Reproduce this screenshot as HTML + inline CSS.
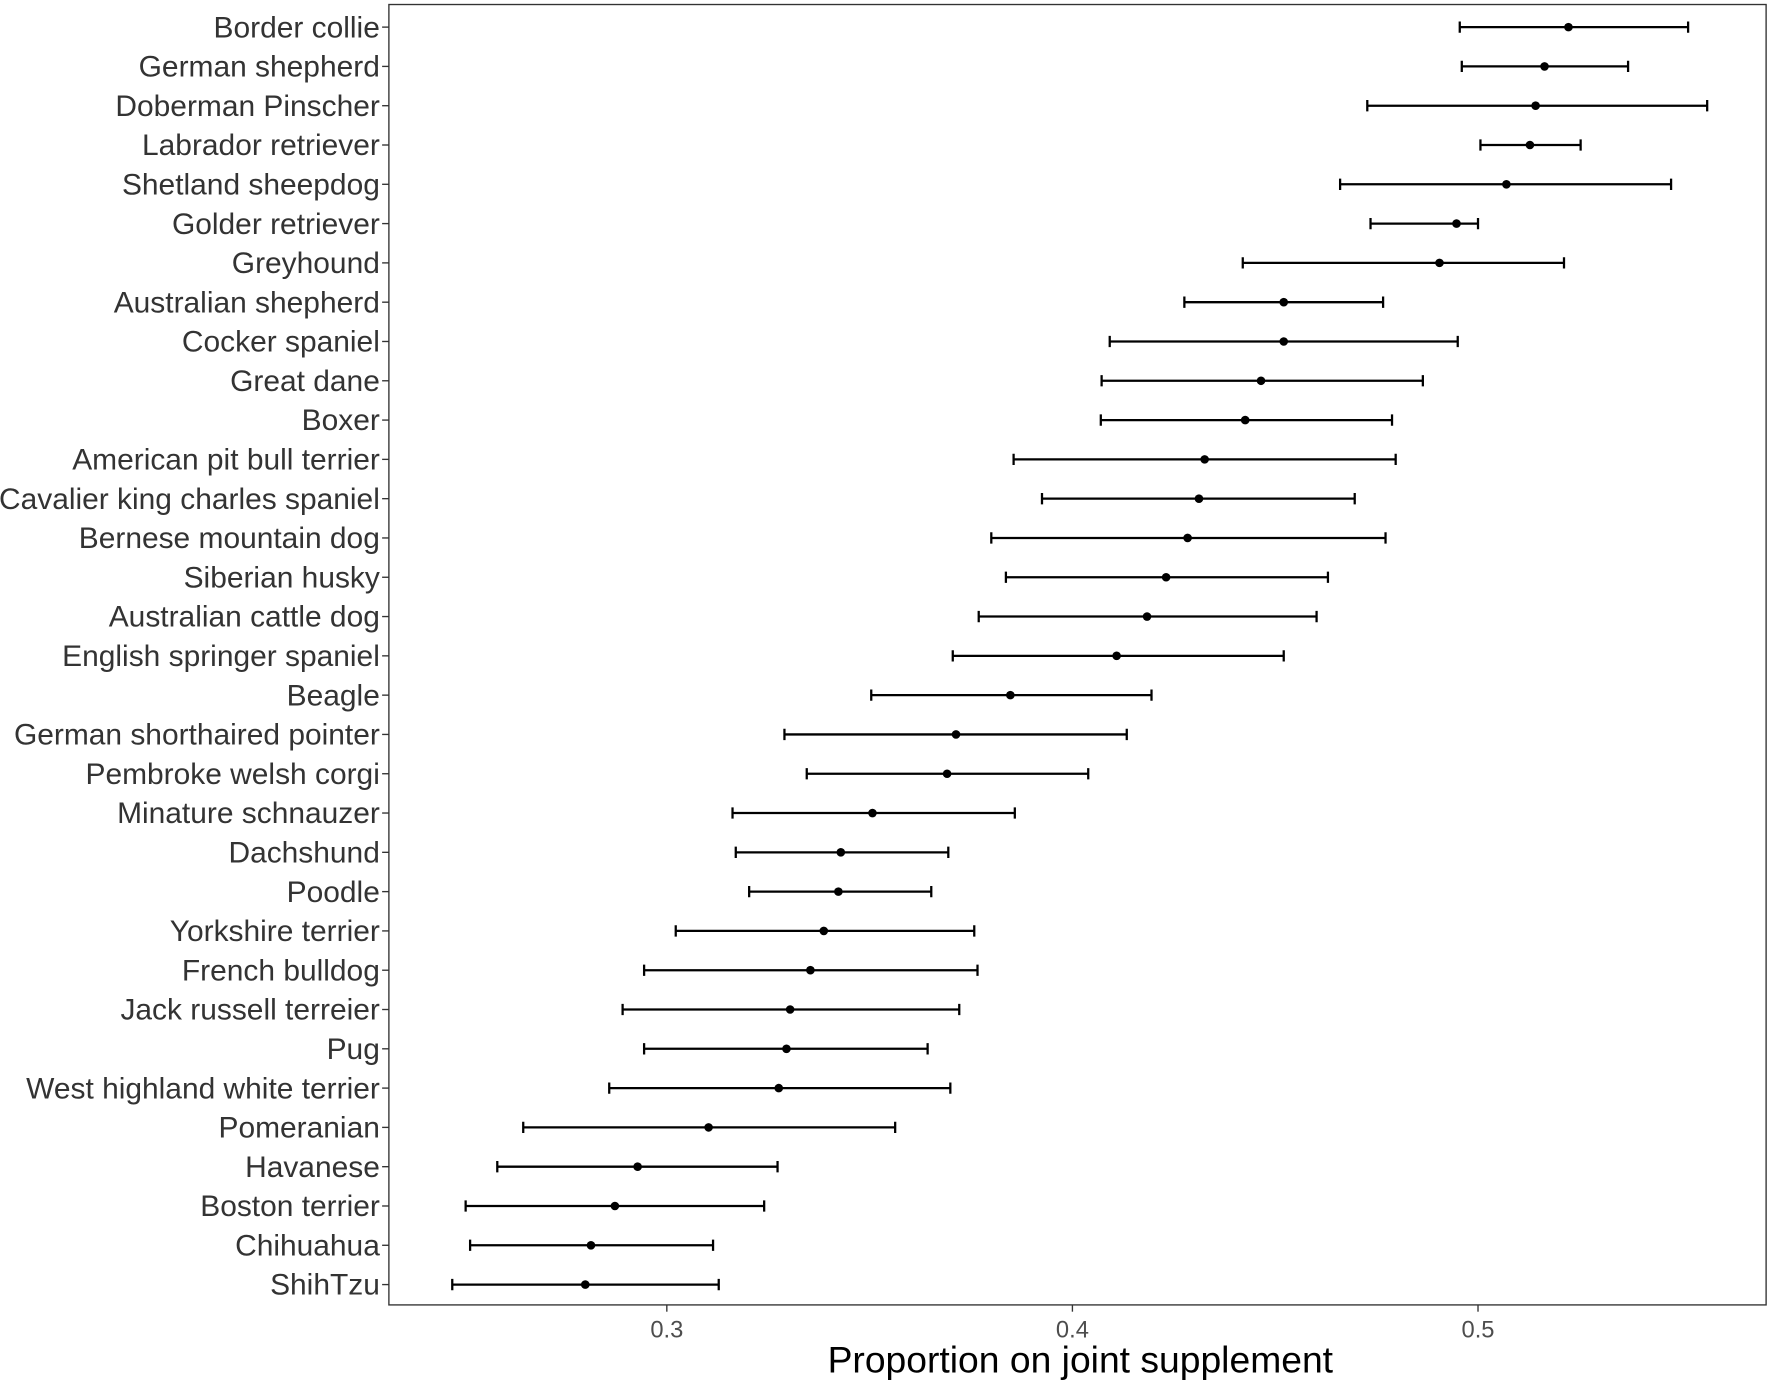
<!DOCTYPE html>
<html><head><meta charset="utf-8"><style>
html,body{margin:0;padding:0;background:#fff;}
svg{display:block;font-family:"Liberation Sans",Arial,sans-serif;}
</style></head><body>
<svg id="chart" width="1772" height="1384" viewBox="0 0 1568 1225" xmlns="http://www.w3.org/2000/svg">
<rect x="0" y="0" width="1568" height="1225" fill="#fff"/>
<rect x="344" y="4" width="1219" height="1151" fill="none" stroke="#333" stroke-width="1.2"/>
<g id="marks"></g>
<text x="956" y="1215" font-size="33" text-anchor="middle" fill="#000">Proportion on joint supplement</text>
</svg>
<script>
const breeds=["Border collie","German shepherd","Doberman Pinscher","Labrador retriever","Shetland sheepdog","Golder retriever","Greyhound","Australian shepherd","Cocker spaniel","Great dane","Boxer","American pit bull terrier","Cavalier king charles spaniel","Bernese mountain dog","Siberian husky","Australian cattle dog","English springer spaniel","Beagle","German shorthaired pointer","Pembroke welsh corgi","Minature schnauzer","Dachshund","Poodle","Yorkshire terrier","French bulldog","Jack russell terreier","Pug","West highland white terrier","Pomeranian","Havanese","Boston terrier","Chihuahua","ShihTzu"];
const estimates=[0.5223,0.5164,0.5142,0.5128,0.507,0.4947,0.4905,0.4521,0.4521,0.4465,0.4426,0.4326,0.4312,0.4284,0.4231,0.4184,0.4109,0.3847,0.3713,0.3691,0.3507,0.3429,0.3423,0.3387,0.3354,0.3304,0.3295,0.3276,0.3103,0.2928,0.2872,0.2813,0.2799];
const lower=[0.4955,0.496,0.4727,0.5006,0.466,0.4735,0.442,0.4276,0.4092,0.4072,0.407,0.3855,0.3925,0.38,0.3836,0.3769,0.3705,0.3504,0.329,0.3345,0.3162,0.317,0.3203,0.3022,0.2944,0.2891,0.2944,0.2858,0.2646,0.2582,0.2504,0.2515,0.2471];
const upper=[0.5518,0.537,0.5565,0.5253,0.5476,0.5,0.5212,0.4766,0.495,0.4864,0.4788,0.4797,0.4696,0.4772,0.463,0.4602,0.4521,0.4195,0.4134,0.4039,0.3858,0.3694,0.3652,0.3758,0.3766,0.3721,0.3643,0.3699,0.3563,0.3273,0.324,0.3114,0.3128];
const xTicks=[0.3,0.4,0.5];
const xTickLabels=["0.3","0.4","0.5"];
const NS="http://www.w3.org/2000/svg";
const g=document.getElementById('marks');
function xs(v){return 590+(v-0.3)*3590;}
function ys(i){return 24+i*(1137-24)/(breeds.length-1);}
function mk(t,a){const e=document.createElementNS(NS,t);for(const k in a)e.setAttribute(k,a[k]);g.appendChild(e);return e;}
breeds.forEach((b,i)=>{
  const y=ys(i);
  const t=mk('line',{x1:338,x2:344,y1:y,y2:y,stroke:'#333','stroke-width':1.2});
  
  
  const l=mk('text',{x:336,y:y+9,'font-size':26.5,'text-anchor':'end',fill:'#333'});
  l.textContent=b;
  
  
  const x1=xs(lower[i]),x2=xs(upper[i]);
  const eb=mk('path',{d:`M${x1},${y}H${x2}M${x1},${y-5}V${y+5}M${x2},${y-5}V${y+5}`,stroke:'#000','stroke-width':2,fill:'none'});
  
  
  const p=mk('circle',{cx:xs(estimates[i]),cy:y,r:3.8,fill:'#000'});
  
  
});
xTicks.forEach((v,i)=>{
  const x=xs(v);
  const t=mk('line',{x1:x,x2:x,y1:1155,y2:1161,stroke:'#333','stroke-width':1.2});
  
  
  const l=mk('text',{x:x,y:1184,'font-size':21,'text-anchor':'middle',fill:'#4d4d4d'});
  l.textContent=xTickLabels[i];
  
  
});
</script>
</body></html>
